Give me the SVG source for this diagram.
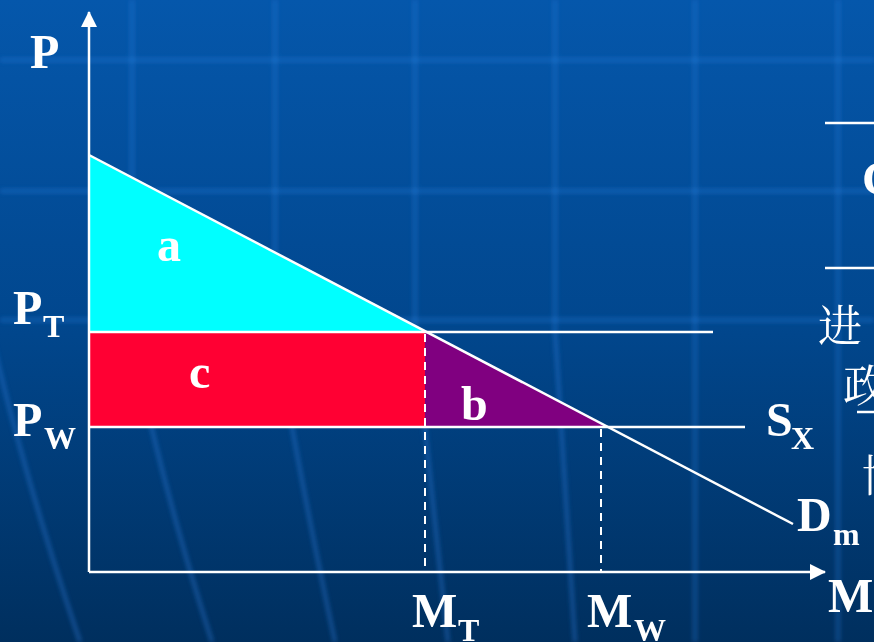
<svg xmlns="http://www.w3.org/2000/svg" width="874" height="642" viewBox="0 0 874 642">
<defs>
<linearGradient id="bg" x1="0" y1="0" x2="0" y2="1">
<stop offset="0" stop-color="#0557ab"/>
<stop offset="0.5" stop-color="#01478e"/>
<stop offset="1" stop-color="#002f5e"/>
</linearGradient>
<marker id="arr" markerWidth="16" markerHeight="16" refX="15" refY="8" orient="auto" markerUnits="userSpaceOnUse">
<path d="M0,0 L16,8 L0,16 Z" fill="#fff"/>
</marker>
<filter id="glow" x="-20%" y="-20%" width="140%" height="140%"><feGaussianBlur stdDeviation="2"/></filter>
</defs>
<style>
.g{stroke:#2f80e0;stroke-width:5;fill:none;opacity:0.3}
.gc{stroke:#2f80e0;stroke-width:4;fill:none;opacity:0.4}
.ln{stroke:#fff;stroke-width:2.5;fill:none}
.dash{stroke:#fff;stroke-width:2;stroke-dasharray:8,6;fill:none}
.t{font-family:"Liberation Serif","Times New Roman",serif;font-weight:bold;fill:#fff;font-size:48px}
.s{font-family:"Liberation Serif","Times New Roman",serif;font-weight:bold;fill:#fff;font-size:32px}
.cj{font-family:"Noto Serif CJK SC","Noto Sans CJK SC",serif;fill:#fff;font-size:44px}
</style>
<rect width="874" height="642" fill="url(#bg)"/>
<g id="background-grid" filter="url(#glow)">
<line class="g" x1="0" y1="60" x2="874" y2="60"/>
<line class="g" x1="0" y1="191" x2="874" y2="191"/>
<line class="g" x1="0" y1="320" x2="874" y2="320"/>
<line class="g" x1="132" y1="0" x2="132" y2="330"/>
<line class="g" x1="275" y1="0" x2="275" y2="330"/>
<line class="g" x1="415" y1="0" x2="415" y2="330"/>
<line class="g" x1="555" y1="0" x2="555" y2="330"/>
<line class="g" x1="695" y1="0" x2="695" y2="642"/>
<line class="g" x1="838" y1="0" x2="838" y2="642"/>
<path class="gc" d="M-10,330 Q25,480 80,642"/>
<path class="gc" d="M130,330 Q160,480 212,642"/>
<path class="gc" d="M275,330 Q300,480 335,642"/>
<path class="gc" d="M415,330 Q430,480 448,642"/>
<path class="gc" d="M555,330 Q565,480 575,642"/>
</g>
<g id="area-a"><polygon points="89,155 427,332 89,332" fill="#00ffff"/></g>
<g id="area-c"><rect x="89" y="332" width="336" height="95" fill="#ff0033"/></g>
<g id="area-b"><polygon points="425,332 427,332 607,427 425,427" fill="#800080"/></g>
<g id="connectors">
<line class="ln" x1="89" y1="572" x2="89" y2="12" marker-end="url(#arr)"/>
<line class="ln" x1="89" y1="572" x2="825" y2="572" marker-end="url(#arr)"/>
<line class="ln" x1="89" y1="155" x2="793" y2="524"/>
<line class="ln" x1="89" y1="332" x2="713" y2="332"/>
<line class="ln" x1="89" y1="427" x2="745" y2="427"/>
<line class="dash" x1="425" y1="334" x2="425" y2="572"/>
<line class="dash" x1="601" y1="429" x2="601" y2="572"/>
<line class="ln" x1="825" y1="123" x2="874" y2="123"/>
<line class="ln" x1="825" y1="268" x2="874" y2="268"/>
<line class="ln" x1="857" y1="412" x2="874" y2="412"/>
</g>
<g id="labels">
<text class="t" x="30" y="68">P</text>
<text class="t" x="13" y="324">P</text><text class="s" x="43" y="337">T</text>
<text class="t" x="13" y="436">P</text><text class="s" x="44" y="449">W</text>
<text class="t" x="157" y="261">a</text>
<text class="t" x="189" y="388">c</text>
<text class="t" x="461" y="420">b</text>
<text class="t" x="412" y="627">M</text><text class="s" x="458" y="641">T</text>
<text class="t" x="587" y="627">M</text><text class="s" x="634" y="641">W</text>
<text class="t" x="828" y="612">M</text>
<text class="t" x="766" y="436">S</text><text class="s" x="791" y="449">X</text>
<text class="t" x="797" y="531">D</text><text class="s" x="833" y="545">m</text>
<text class="t" x="862" y="195">C</text>
<text class="cj" x="818" y="342">进</text>
<text class="cj" x="843" y="402">政</text>
<text class="cj" x="862" y="492">协</text>
</g>
</svg>
